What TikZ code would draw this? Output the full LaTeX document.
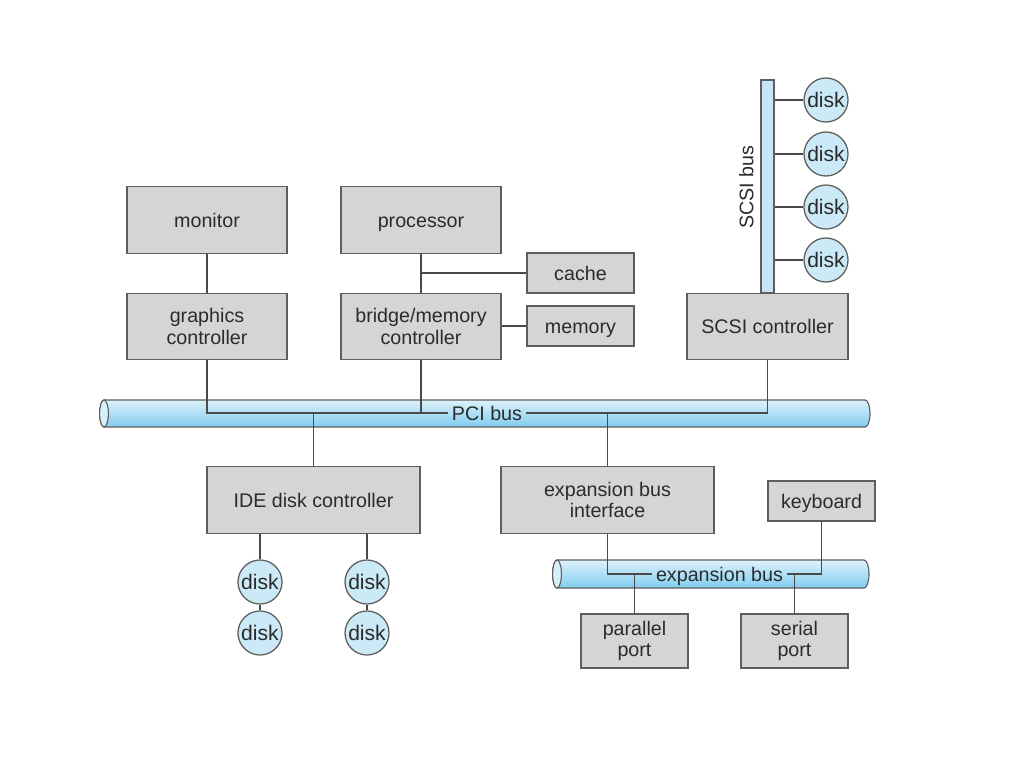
\documentclass[tikz,border=0pt]{standalone}
\usepackage{fontspec}
\setmainfont{Liberation Sans}
\definecolor{boxfill}{HTML}{D4D5D5}
\definecolor{boxline}{HTML}{5E5E5E}
\definecolor{wirec}{HTML}{4A4A4A}
\definecolor{txt}{HTML}{2B2B2B}
\definecolor{diskfill}{HTML}{CBE9F6}
\definecolor{scsifill}{HTML}{C6E6F4}
\definecolor{bustop}{HTML}{DDF2FB}
\definecolor{busmid}{HTML}{B6E3F7}
\definecolor{busbot}{HTML}{80CCF0}
\definecolor{endfill}{HTML}{D6EFFA}
% #1 x0, #2 x1, #3 yc, #4 half height px, #5 half height cm
\newcommand\buscyl[5]{%
  \path[draw=boxline, line width=0.8pt, top color=bustop, middle color=busmid, bottom color=busbot]
    (#1,#3+#4) -- (#2-5,#3+#4) arc[start angle=90,end angle=-90,x radius=0.125cm,y radius=#5]
    -- (#1,#3-#4) arc[start angle=270,end angle=90,x radius=0.11cm,y radius=#5] -- cycle;
  \draw[boxline, line width=0.8pt, fill=endfill] (#1,#3) ellipse[x radius=0.11cm, y radius=#5];
}
\begin{document}
\begin{tikzpicture}[x=0.025cm,y=0.025cm,
  box/.style={draw=boxline, fill=boxfill, line width=0.9pt, text=txt, align=center,
    inner sep=0pt, font=\fontsize{14}{15.5}\selectfont},
  one/.style={text height=12pt, text depth=1.5pt},
  bigbox/.style={box, minimum width=4cm, minimum height=1.66cm},
  widebox/.style={box, minimum width=5.325cm, minimum height=1.66cm},
  smallbox/.style={box, one, minimum width=2.675cm, minimum height=1cm},
  portbox/.style={box, minimum width=2.675cm, minimum height=1.35cm},
  disk/.style={circle, draw=boxline, fill=diskfill, line width=0.9pt, minimum size=1.1cm,
    inner sep=0pt, text=txt, font=\fontsize{15}{16}\selectfont},
  wire/.style={draw=wirec, line width=0.8pt},
  buslabel/.style={text=txt, inner sep=2.5pt, one, font=\fontsize{14}{15.5}\selectfont}]
\useasboundingbox (0,0) rectangle (1024,-768);

% buses
\buscyl{104}{870}{-413.5}{13.5}{0.3375cm}
\buscyl{557}{869}{-574}{14}{0.35cm}

% top boxes
\node[bigbox, one] (monitor) at (207,-220) {monitor};
\node[bigbox, one] (proc) at (421,-220) {processor};
\node[smallbox] (cache) at (580.5,-273) {cache};
\node[smallbox] (memory) at (580.5,-326) {memory};
\node[bigbox] (gfx) at (207,-326.5) {graphics\\controller};
\node[bigbox] (bridge) at (421,-326.5) {bridge/memory\\controller};
\node[bigbox, one, minimum width=4.025cm] (scsi) at (767.5,-326.5) {SCSI controller};

% SCSI bus
\node[draw=boxline, fill=scsifill, line width=0.8pt, minimum width=0.325cm, minimum height=5.325cm, inner sep=0pt] (sbus) at (767.5,-186.5) {};
\node[buslabel, rotate=90] (sbuslbl) at (746,-187) {SCSI bus};
\node[disk] (sd1) at (826,-100) {disk};
\node[disk] (sd2) at (826,-154) {disk};
\node[disk] (sd3) at (826,-207) {disk};
\node[disk] (sd4) at (826,-260) {disk};
\foreach \d in {sd1,sd2,sd3,sd4}
  \draw[wire] (\d.west -| sbus.east) -- (\d.west);

% lower boxes
\node[widebox, one] (ide) at (313.5,-500) {IDE disk controller};
\node[widebox] (exp) at (607.5,-500) {expansion bus\\interface};
\node[smallbox] (kbd) at (821.5,-501) {keyboard};
\node[portbox] (par) at (634.5,-641) {parallel\\port};
\node[portbox] (ser) at (794.5,-641) {serial\\port};

% IDE disks
\node[disk] (d1) at (260,-582) {disk};
\node[disk] (d2) at (260,-633) {disk};
\node[disk] (d3) at (367,-582) {disk};
\node[disk] (d4) at (367,-633) {disk};

% bus labels
\node[buslabel] (pcilbl) at (487,-413) {PCI bus};
\node[buslabel] (explbl) at (719.5,-574) {expansion bus};

% connectors
\draw[wire] (monitor.south) -- (gfx.north);
\draw[wire] (proc.south) -- (bridge.north);
\draw[wire] (proc.south |- cache.west) -- (cache.west);
\draw[wire] (bridge.east |- memory.west) -- (memory.west);
\draw[wire] (gfx.south) |- (pcilbl.west);
\draw[wire] (scsi.south) |- (pcilbl.east);
\draw[wire] (bridge.south) -- (bridge.south |- pcilbl.west);
\draw[wire] (ide.north |- pcilbl.west) -- (ide.north);
\draw[wire] (exp.north |- pcilbl.east) -- (exp.north);
\draw[wire] (d1.north |- ide.south) -- (d1.north);
\draw[wire] (d3.north |- ide.south) -- (d3.north);
\draw[wire] (d1.south) -- (d2.north);
\draw[wire] (d3.south) -- (d4.north);
\draw[wire] (exp.south) |- (explbl.west);
\draw[wire] (kbd.south) |- (explbl.east);
\draw[wire] (par.north |- explbl.west) -- (par.north);
\draw[wire] (ser.north |- explbl.east) -- (ser.north);
\end{tikzpicture}
\end{document}
